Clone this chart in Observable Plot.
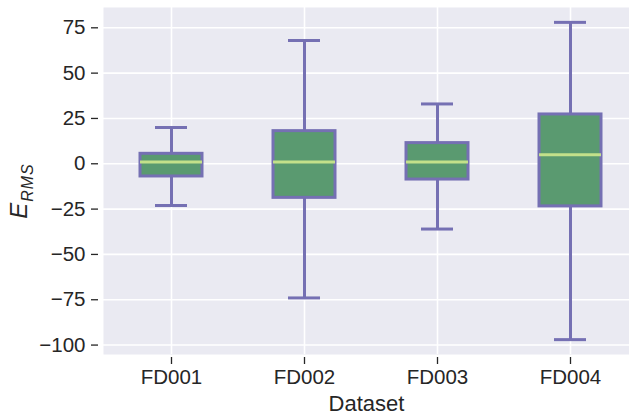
<!DOCTYPE html>
<html><head><meta charset="utf-8">
<script src="https://cdn.jsdelivr.net/npm/d3@7"></script>
<script src="https://cdn.jsdelivr.net/npm/@observablehq/plot@0.6"></script>
<style>body{margin:0;background:#fff;overflow:hidden} svg{display:block}</style>
</head><body><div id="chart"></div>
<script>
const categories = ["FD001", "FD002", "FD003", "FD004"];
const whiskerLow = [-23, -74, -36, -97];
const q1 = [-7, -18.8, -8.7, -23.5];
const median = [1, 1, 1, 5];
const q3 = [5.5, 18, 11.4, 27.2];
const whiskerHigh = [20, 68, 33, 78];
const yTicks = [-100, -75, -50, -25, 0, 25, 50, 75];

const rows = categories.map((c, i) => ({
  dataset: c, lo: whiskerLow[i], q1: q1[i], med: median[i], q3: q3[i], hi: whiskerHigh[i]
}));

const purple = "#7570b3", green = "#5a9a70", medianColor = "#c3e08a";

const chart = Plot.plot({
  width: 629, height: 415,
  marginTop: 7, marginBottom: 61, marginLeft: 103, marginRight: 0,
  style: {fontFamily: "'Liberation Sans', Arial, sans-serif", fontSize: "20.5px", background: "white", color: "#262626", overflow: "hidden"},
  x: {domain: categories, range: [103, 637], paddingInner: 0.535, paddingOuter: 0.2675, align: 0.5, label: null},
  y: {domain: [-105.2, 86.2], label: null},
  marks: [
    Plot.frame({fill: "#eaeaf2", stroke: null}),
    Plot.gridY(yTicks, {stroke: "white", strokeOpacity: 1, strokeWidth: 1.6}),
    Plot.gridX(categories, {stroke: "white", strokeOpacity: 1, strokeWidth: 1.6}),
    Plot.axisY(yTicks, {tickSize: 7, tickPadding: 6, dx: -5, label: null, strokeWidth: 1.3}),
    Plot.axisX(categories, {tickSize: 7, tickPadding: 5, dy: 3, label: null, strokeWidth: 1.3}),
    Plot.text(["Dataset"], {frameAnchor: "bottom", dy: 56, fontSize: 22, fill: "#262626"}),
    Plot.ruleX(rows, {x: "dataset", y1: "q3", y2: "hi", stroke: purple, strokeWidth: 3}),
    Plot.ruleX(rows, {x: "dataset", y1: "lo", y2: "q1", stroke: purple, strokeWidth: 3}),
    Plot.tickY(rows, {x: "dataset", y: "hi", stroke: purple, strokeWidth: 3, insetLeft: 15, insetRight: 15}),
    Plot.tickY(rows, {x: "dataset", y: "lo", stroke: purple, strokeWidth: 3, insetLeft: 15, insetRight: 15}),
    Plot.barY(rows, {x: "dataset", y1: "q1", y2: "q3", fill: green, stroke: purple, strokeWidth: 3}),
    Plot.tickY(rows, {x: "dataset", y: "med", stroke: medianColor, strokeWidth: 3})
  ]
});

const svg = d3.select(chart);
const lab = svg.append("text")
  .attr("transform", "translate(27,191) rotate(-90)")
  .attr("text-anchor", "middle")
  .attr("fill", "#262626")
  .style("font-family", "'Liberation Sans', Arial, sans-serif")
  .style("font-style", "italic");
lab.append("tspan").attr("font-size", 24).text("E");
lab.append("tspan").attr("font-size", 16).attr("dy", 6).attr("dx", 1).style("letter-spacing", "1px").text("RMS");

document.getElementById("chart").append(chart);
</script>
</body></html>
